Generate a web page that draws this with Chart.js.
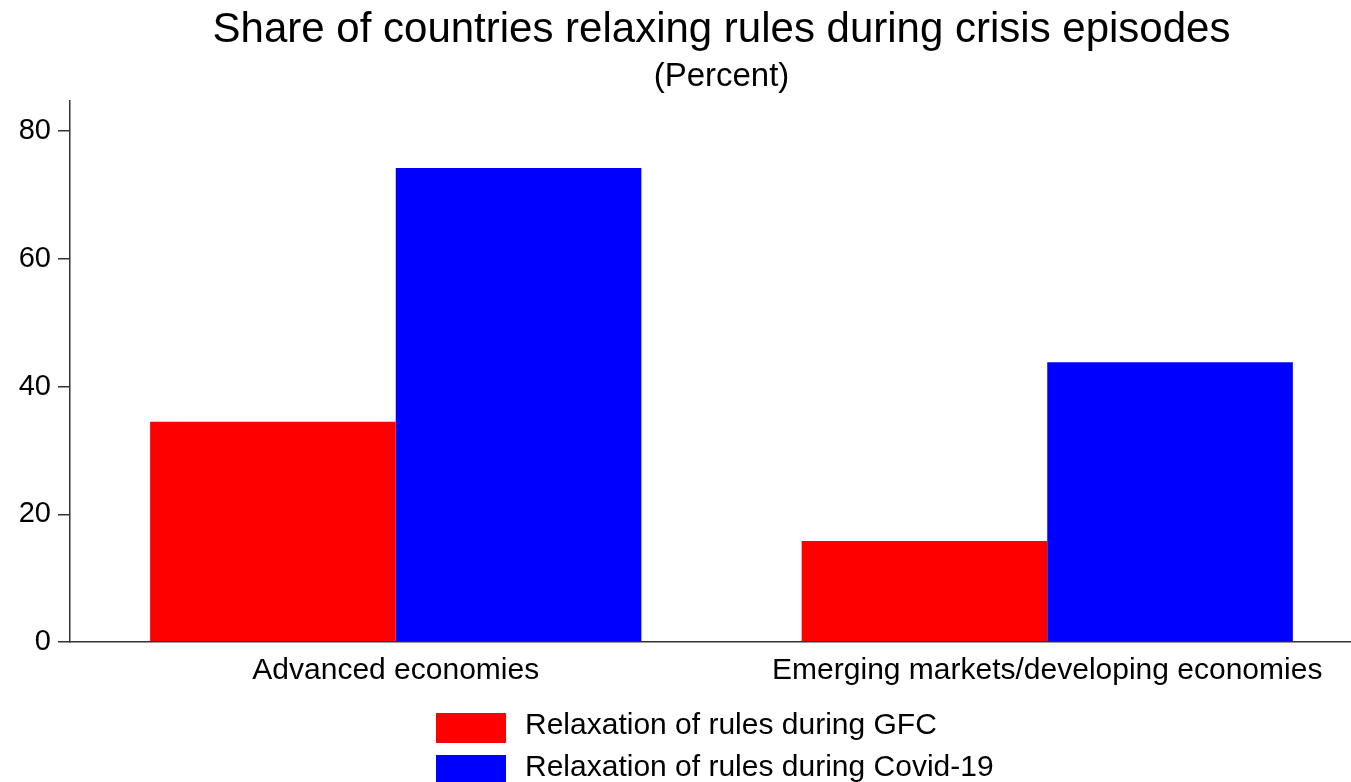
<!DOCTYPE html>
<html lang="en">
<head>
  <meta charset="UTF-8">
  <title>Share of countries relaxing rules during crisis episodes</title>
  <script src="https://cdn.jsdelivr.net/npm/chart.js"></script>
  <style>
    html, body {
      margin: 0;
      padding: 0;
      background: #fff;
      overflow: hidden;
    }
    #wrap {
      width: 1373px;
      height: 782px;
    }
  </style>
</head>
<body>
  <div id="wrap">
    <canvas id="myChart" width="1373" height="782"></canvas>
  </div>

  <script>
    const categories = ['Advanced economies', 'Emerging markets/developing economies'];
    const gfcShare = [34.5, 15.8];
    const covidShare = [74.2, 43.8];
    const yTicks = [0, 20, 40, 60, 80];
    const seriesNames = ['Relaxation of rules during GFC', 'Relaxation of rules during Covid-19'];
    const seriesColors = ['#ff0000', '#0000ff'];

    const FONT = "'Liberation Sans', Arial, sans-serif";
    const axisColor = '#333';

    // legend stacked in two rows under the x axis, like the original
    const stackedLegend = {
      id: 'stackedLegend',
      afterDraw(chart) {
        const ctx = chart.ctx;
        const area = chart.chartArea;
        ctx.save();
        ctx.font = '30px ' + FONT;
        const boxW = 70, boxH = 30, gap = 19;
        const left = area.left + 366;
        chart.data.datasets.forEach((ds, i) => {
          const cy = area.bottom + 86 + i * 42;
          ctx.fillStyle = ds.backgroundColor;
          ctx.fillRect(left, cy - boxH / 2, boxW, boxH);
          ctx.fillStyle = '#000';
          ctx.textBaseline = 'middle';
          ctx.textAlign = 'left';
          ctx.fillText(ds.label, left + boxW + gap, cy - 2);
        });
        ctx.restore();
      }
    };

    const ctx = document.getElementById('myChart').getContext('2d');
    new Chart(ctx, {
      type: 'bar',
      data: {
        labels: categories,
        datasets: [
          { label: seriesNames[0], data: gfcShare, backgroundColor: seriesColors[0] },
          { label: seriesNames[1], data: covidShare, backgroundColor: seriesColors[1] }
        ]
      },
      plugins: [stackedLegend],
      options: {
        responsive: false,
        animation: false,
        layout: { padding: 0 },
        datasets: {
          bar: { barPercentage: 1, categoryPercentage: 0.754 }
        },
        plugins: {
          legend: { display: false },
          tooltip: { enabled: false },
          title: {
            display: true,
            fullSize: false,
            text: 'Share of countries relaxing rules during crisis episodes',
            color: '#000',
            font: { family: FONT, size: 42, weight: 'normal', lineHeight: 1.2 },
            padding: { top: 5, bottom: 0 }
          },
          subtitle: {
            display: true,
            fullSize: false,
            text: '(Percent)',
            color: '#000',
            font: { family: FONT, size: 33, weight: 'normal', lineHeight: 1.2 },
            padding: { top: 2, bottom: 4 }
          }
        },
        scales: {
          x: {
            grid: { display: false, drawTicks: false },
            border: { display: true, color: axisColor, width: 1.5 },
            ticks: { color: '#000', font: { family: FONT, size: 30 }, padding: 11, maxRotation: 0, autoSkip: false },
            afterFit: s => { s.height = 140; }
          },
          y: {
            min: 0,
            max: 84.7,
            grid: { drawOnChartArea: false, drawTicks: true, tickLength: 12, color: axisColor, lineWidth: 1.5 },
            border: { display: true, color: axisColor, width: 1.5 },
            ticks: { color: '#000', font: { family: FONT, size: 29 }, padding: 7, stepSize: 20 },
            afterBuildTicks: s => { s.ticks = yTicks.map(v => ({ value: v })); },
            afterFit: s => { s.width = 70; }
          }
        }
      }
    });
  </script>
</body>
</html>
